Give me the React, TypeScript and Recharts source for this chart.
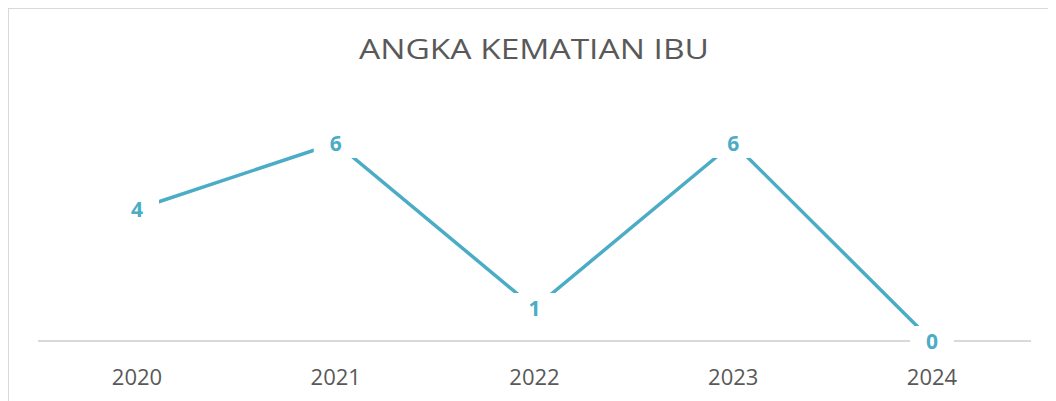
import * as React from 'react';
import { LineChart, Line, XAxis, YAxis, LabelList } from 'recharts';

const years = ['2020', '2021', '2022', '2023', '2024'];
const deaths = [4, 6, 1, 6, 0];
const title = 'ANGKA KEMATIAN IBU';

const data = years.map((y, i) => ({ year: y, value: deaths[i] }));

const LINE_COLOR = '#4BACC6';
const TEXT_COLOR = '#595959';
const FONT = '"Open Sans", "Liberation Sans", sans-serif';

const YearTick = (props: any) => {
    const { x, y, payload } = props;
    return (
        <text x={x} y={y + 27} textAnchor="middle" dominantBaseline="central"
            fill={TEXT_COLOR} fontSize={22} fontFamily={FONT}>
            {payload.value}
        </text>
    );
};

const ValueLabel = (props: any) => {
    const { x, y, value } = props;
    return (
        <g>
            <rect x={x - 22} y={y - 15} width={44} height={30} fill="#fff" />
            <text x={x} y={y} textAnchor="middle" dominantBaseline="central"
                fill={LINE_COLOR} fontSize={21} fontWeight="bold" fontFamily={FONT}>
                {value}
            </text>
        </g>
    );
};

export default function App() {
    return (
        <div style={{ position: 'relative', width: 1050, height: 392, border: '1px solid #d9d9d9', background: '#fff' }}>
            <svg width={1050} height={80} style={{ position: 'absolute', left: 0, top: 0 }}>
                <text x={525} y={50} textAnchor="middle" fill={TEXT_COLOR} fontSize={27}
                    fontFamily={FONT} textLength={350} lengthAdjust="spacingAndGlyphs">
                    {title}
                </text>
            </svg>
            <LineChart width={1050} height={392} data={data}
                margin={{ top: 101, right: 28, bottom: 0, left: 29 }}>
                <XAxis dataKey="year" height={60} padding={{ left: 99, right: 99 }}
                    axisLine={{ stroke: '#d9d9d9', strokeWidth: 2 }} tickLine={false}
                    tick={<YearTick />} interval={0} />
                <YAxis hide domain={[0, 7]} />
                <Line type="linear" dataKey="value" stroke={LINE_COLOR} strokeWidth={3.5}
                    dot={false} activeDot={false} isAnimationActive={false}>
                    <LabelList dataKey="value" content={<ValueLabel />} />
                </Line>
            </LineChart>
        </div>
    );
}
